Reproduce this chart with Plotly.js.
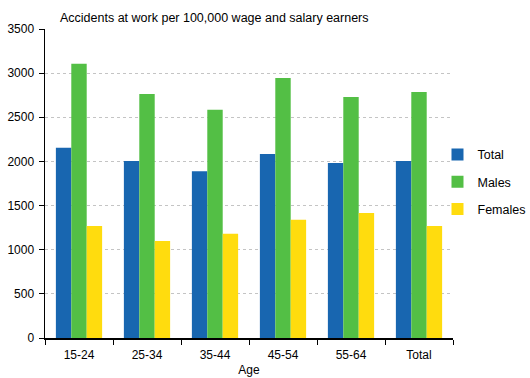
<!DOCTYPE html>
<html><head><meta charset="utf-8">
<script src="https://cdn.plot.ly/plotly-3.0.1.min.js"></script>
<style>body{margin:0;padding:0;background:#fff}#chart{width:530px;height:378px}</style>
</head><body><div id="chart"></div>
<script>
const categories = ["15-24","25-34","35-44","45-54","55-64","Total"];
const totalVals = [2155, 2005, 1890, 2085, 1982, 2005];
const maleVals = [3105, 2765, 2585, 2945, 2730, 2785];
const femaleVals = [1270, 1100, 1180, 1338, 1416, 1270];
const seriesNames = ["Total","Males","Females"];
const colors = ["#1866B0","#53BF45","#FFDC0E"];
const yTicks = [0,500,1000,1500,2000,2500,3000,3500];

const data = [totalVals, maleVals, femaleVals].map((v,i)=>({
  type:"bar", x:categories, y:v, name:seriesNames[i],
  marker:{color:colors[i], line:{width:0}}, legendgroup:"g"+i, hoverinfo:"none"
}));

const layout = {
  width:530, height:378,
  margin:{l:45, r:77, t:29, b:40, autoexpand:false},
  paper_bgcolor:"#fff", plot_bgcolor:"#fff",
  font:{family:"Liberation Sans, Arial, sans-serif", size:12, color:"#000"},
  title:{text:"Accidents at work per 100,000 wage and salary earners",
    xref:"container", yref:"container", x:60/530, xanchor:"left", y:1-18/378, yanchor:"middle",
    font:{size:12.5, color:"#000"}},
  barmode:"group", bargap:0.32, bargroupgap:0,
  showlegend:true,
  legend:{x:0.962, xanchor:"left", y:0.505, yanchor:"middle", tracegroupgap:8,
    font:{size:12.5}, itemwidth:30, bgcolor:"rgba(0,0,0,0)"},
  xaxis:{type:"category", showline:true, linecolor:"#000", linewidth:1.5,
    ticks:"outside", tickson:"boundaries", ticklen:5, tickcolor:"#000", tickwidth:1,
    showgrid:false, tickfont:{size:12}, ticklabelstandoff:5,
    title:{text:"Age", standoff:4, font:{size:12}}},
  yaxis:{range:[0,3500], tickvals:yTicks, showline:true, linecolor:"#000", linewidth:1.5,
    ticks:"outside", ticklen:5, tickcolor:"#000", tickwidth:1,
    showgrid:true, gridcolor:"#c4c4c4", griddash:"dot", gridwidth:1,
    zeroline:false, tickfont:{size:12}, ticklabelstandoff:2}
};
Plotly.newPlot("chart", data, layout, {displayModeBar:false, staticPlot:true});
</script></body></html>
